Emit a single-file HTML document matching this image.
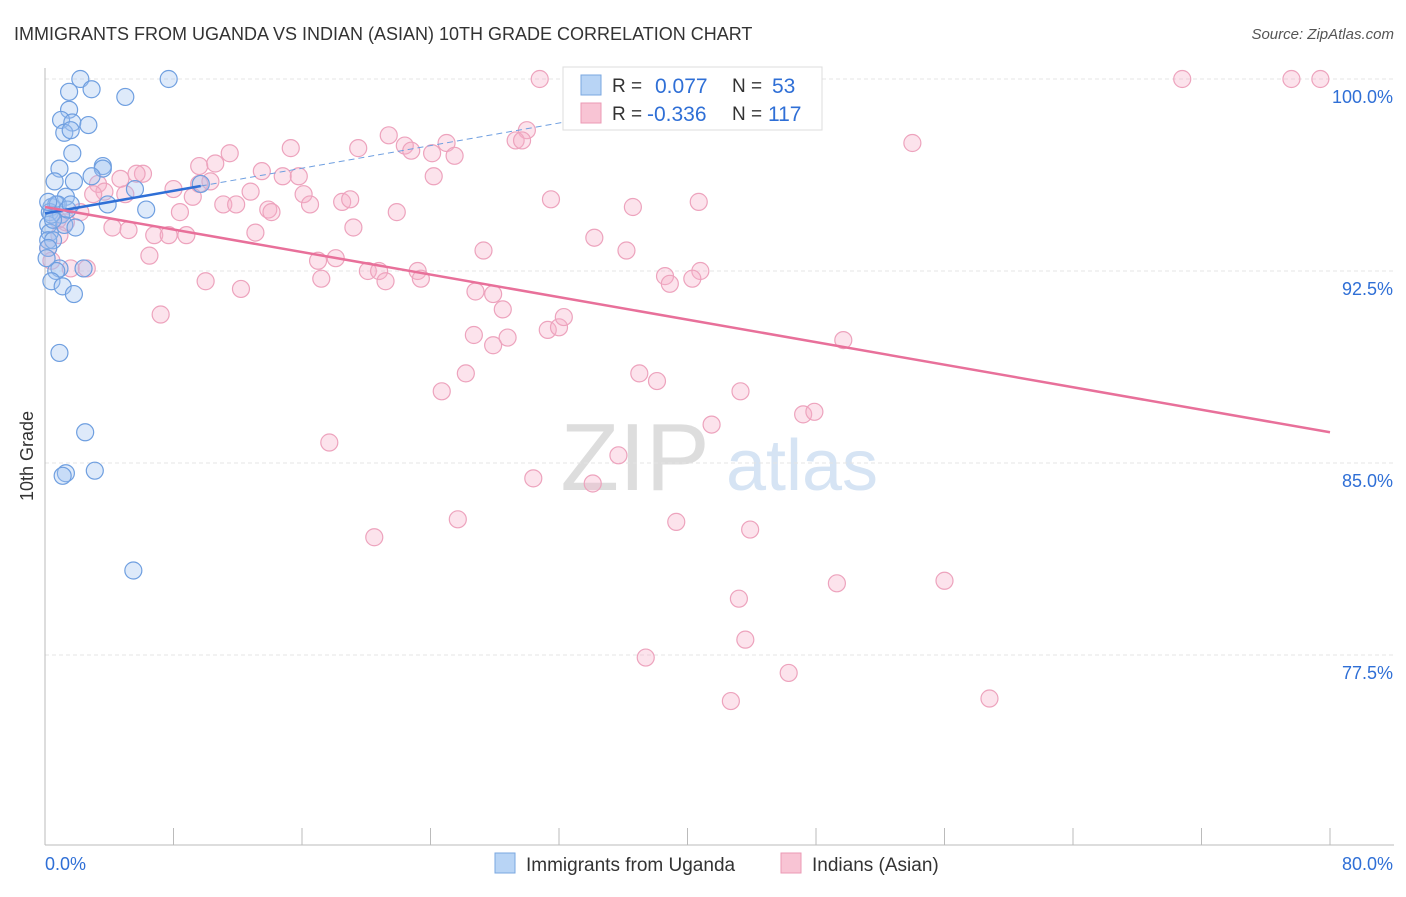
<!DOCTYPE html>
<html><head><meta charset="utf-8"><style>
body{margin:0;background:#fff;font-family:"Liberation Sans",sans-serif;}
svg text{font-family:"Liberation Sans",sans-serif;}
</style></head><body>
<svg id="c" width="1406" height="892" viewBox="0 0 1406 892">
<text x="14" y="40" font-size="18" fill="#333">IMMIGRANTS FROM UGANDA VS INDIAN (ASIAN) 10TH GRADE CORRELATION CHART</text>
<text x="1394" y="39" font-size="15" fill="#555" text-anchor="end" font-style="italic">Source: ZipAtlas.com</text>
<text x="33" y="456" font-size="18" fill="#333" transform="rotate(-90 33 456)" text-anchor="middle">10th Grade</text>
<g>
<text x="635" y="490" font-size="96" fill="#ddd" font-family="Liberation Serif" text-anchor="middle">ZIP</text>
<text x="802" y="490" font-size="72" fill="#d6e4f4" text-anchor="middle">atlas</text>
</g>
<g id="grid"></g><g id="axes"></g><g id="pts"></g><g id="lines"></g>
<g>
<rect x="563" y="67" width="259" height="63" fill="#fff" stroke="#ddd"/>
<rect x="581" y="75" width="20" height="20" fill="#b8d4f5" stroke="#7aa7e0"/>
<rect x="581" y="103" width="20" height="20" fill="#f8c4d4" stroke="#eb9ab4"/>
<text x="612" y="92" font-size="19" fill="#333">R =</text>
<text x="655" y="93" font-size="21" fill="#2f6fd6">0.077</text>
<text x="732" y="92" font-size="19" fill="#333">N =</text>
<text x="772" y="93" font-size="21" fill="#2f6fd6">53</text>
<text x="612" y="120" font-size="19" fill="#333">R =</text>
<text x="647" y="121" font-size="21" fill="#2f6fd6">-0.336</text>
<text x="732" y="120" font-size="19" fill="#333">N =</text>
<text x="768" y="121" font-size="21" fill="#2f6fd6">117</text>
</g>
<g>
<rect x="495" y="853" width="20" height="20" fill="#b8d4f5" stroke="#7aa7e0"/>
<text x="526" y="871" font-size="19" fill="#333">Immigrants from Uganda</text>
<rect x="781" y="853" width="20" height="20" fill="#f8c4d4" stroke="#eb9ab4"/>
<text x="812" y="871" font-size="19" fill="#333">Indians (Asian)</text>
</g>
</svg>
<script>
const yTicks=[100,92.5,85,77.5];
const yTickLabels=["100.0%","92.5%","85.0%","77.5%"];
const xTicks=[0,8,16,24,32,40,48,56,64,72,80];
const blueX=[2.2,7.7,2.9,1.5,5.0,1.5,1.0,1.7,2.7,1.2,1.6,1.7,0.9,3.6,3.6,2.9,0.6,1.8,5.6,9.7,1.3,3.9,6.3,0.4,0.7,0.3,1.0,0.2,1.2,1.9,0.3,0.2,0.5,0.2,0.9,0.7,2.4,0.4,1.1,1.8,0.9,2.5,1.3,1.1,3.1,5.5,0.4,0.8,0.1,0.5,0.2,1.4,1.6];
const blueY=[100,100,99.6,99.5,99.3,98.8,98.4,98.3,98.2,97.9,98.0,97.1,96.5,96.6,96.5,96.2,96.0,96.0,95.7,95.9,95.4,95.1,94.9,95.0,95.1,94.8,94.7,94.3,94.3,94.2,94.0,93.7,93.7,93.4,92.6,92.5,92.6,92.1,91.9,91.6,89.3,86.2,84.6,84.5,84.7,80.8,94.7,95.1,93.0,94.5,95.2,94.9,95.1];
const pinkX=[30.8,46.8,70.8,77.6,79.4,54.0,21.4,30.0,29.3,29.7,25.0,22.4,22.8,24.1,25.5,19.5,15.3,11.5,9.6,10.6,13.5,14.8,15.8,12.8,9.6,10.3,8.0,6.1,5.7,4.7,3.3,3.7,3.0,5.0,9.2,11.1,11.9,16.1,16.5,13.9,14.1,18.5,19.0,21.9,24.2,31.5,36.6,40.7,8.4,2.2,1.3,4.2,5.2,6.8,7.7,8.8,13.1,19.2,34.2,27.3,36.2,6.5,1.6,2.6,10.0,12.2,17.0,18.1,17.2,20.1,20.8,21.2,23.2,23.4,38.6,38.9,40.8,40.3,26.8,27.9,28.5,7.2,26.7,27.9,28.8,31.3,32.0,32.3,49.7,26.2,24.7,37.0,38.1,43.3,41.5,47.2,47.9,17.7,30.4,34.1,35.7,25.7,20.5,39.3,43.9,49.3,56.0,43.2,43.6,37.4,46.3,42.7,58.8,0.8,0.2,0.4,0.9];
const pinkY=[100,100,100,100,100,97.5,97.8,98.0,97.6,97.6,97.5,97.4,97.2,97.1,97.0,97.3,97.3,97.1,96.6,96.7,96.4,96.2,96.2,95.6,95.9,96.0,95.7,96.3,96.3,96.1,95.9,95.6,95.5,95.5,95.4,95.1,95.1,95.5,95.1,94.9,94.8,95.2,95.3,94.8,96.2,95.3,95.0,95.2,94.8,94.8,94.4,94.2,94.1,93.9,93.9,93.9,94.0,94.2,93.8,93.3,93.3,93.1,92.6,92.6,92.1,91.8,92.9,93.0,92.2,92.5,92.5,92.1,92.5,92.2,92.3,92.0,92.5,92.2,91.7,91.6,91.0,90.8,90.0,89.6,89.9,90.2,90.3,90.7,89.8,88.5,87.8,88.5,88.2,87.8,86.5,86.9,87.0,85.8,84.4,84.2,85.3,82.8,82.1,82.7,82.4,80.3,80.4,79.7,78.1,77.4,76.8,75.7,75.8,94.5,93.4,92.9,93.9];
const blueFit=[0,34,94.75,98.5];
const pinkFit=[0,80,95.0,86.2];
const ns="http://www.w3.org/2000/svg";
const xs=v=>45+v*(1285/80), ys=v=>79+(100-v)*25.6;
function mk(t,a,p){const e=document.createElementNS(ns,t);for(const k in a)e.setAttribute(k,a[k]);p.appendChild(e);return e;}
const grid=document.getElementById('grid'),axes=document.getElementById('axes'),pts=document.getElementById('pts'),lines=document.getElementById('lines');
yTicks.forEach((v,i)=>{const l=mk('line',{x1:45,x2:1394,y1:ys(v),y2:ys(v),stroke:'#e4e4e4','stroke-dasharray':'4 3'},grid);


const t=mk('text',{x:1393,y:ys(v)+24,'font-size':18,fill:'#2f6fd6','text-anchor':'end'},axes);t.textContent=yTickLabels[i];

});
const ax=mk('line',{x1:45,x2:45,y1:68,y2:845,stroke:'#bbb'},axes);


const bx=mk('line',{x1:45,x2:1394,y1:845,y2:845,stroke:'#bbb'},axes);


xTicks.forEach(v=>{const t=mk('line',{x1:xs(v),x2:xs(v),y1:828,y2:845,stroke:'#bbb'},axes);

});
const x0=mk('text',{x:45,y:870,'font-size':18,fill:'#2f6fd6'},axes);x0.textContent='0.0%';


const x1=mk('text',{x:1393,y:870,'font-size':18,fill:'#2f6fd6','text-anchor':'end'},axes);x1.textContent='80.0%';


pinkX.forEach((v,i)=>{const c=mk('circle',{cx:xs(v),cy:ys(pinkY[i]),r:8.5,fill:'rgba(246,176,200,0.35)',stroke:'#eda3bd','stroke-width':1.2},pts);

});
blueX.forEach((v,i)=>{const c=mk('circle',{cx:xs(v),cy:ys(blueY[i]),r:8.5,fill:'rgba(160,196,240,0.35)',stroke:'#6f9fe0','stroke-width':1.2},pts);

});
const by=x=>blueFit[2]+(blueFit[3]-blueFit[2])*(x-blueFit[0])/(blueFit[1]-blueFit[0]);
const l1=mk('line',{x1:xs(0),y1:ys(by(0)),x2:xs(9.7),y2:ys(by(9.7)),stroke:'#2f6fd6','stroke-width':2.5},lines);


const l2=mk('line',{x1:xs(9.7),y1:ys(by(9.7)),x2:xs(34),y2:ys(by(34)),stroke:'#6f9fe0','stroke-width':1,'stroke-dasharray':'6 4'},lines);


const l3=mk('line',{x1:xs(pinkFit[0]),y1:ys(pinkFit[2]),x2:xs(pinkFit[1]),y2:ys(pinkFit[3]),stroke:'#e8709a','stroke-width':2.5},lines);


</script>
</body></html>
